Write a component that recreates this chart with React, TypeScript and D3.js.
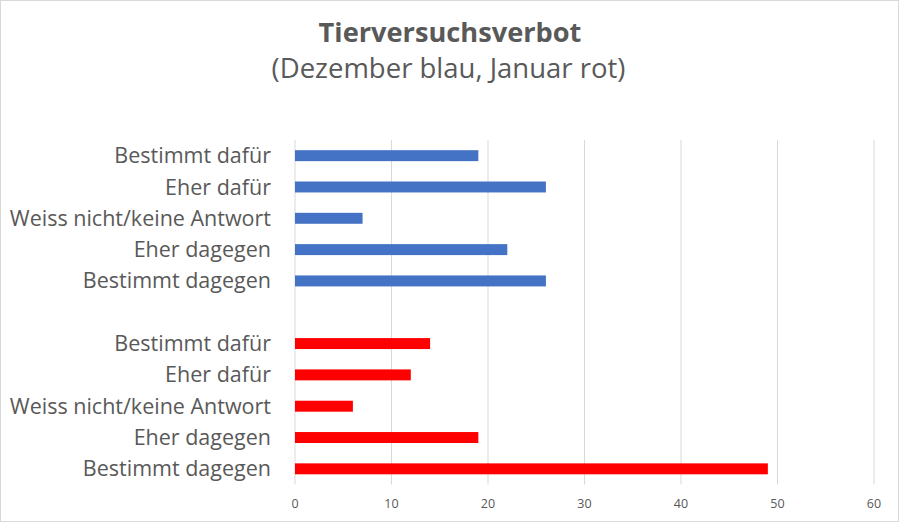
import React from "react";
import * as d3 from "d3";

const categories = [
  "Bestimmt dafür",
  "Eher dafür",
  "Weiss nicht/keine Antwort",
  "Eher dagegen",
  "Bestimmt dagegen",
  "",
  "Bestimmt dafür ",
  "Eher dafür ",
  "Weiss nicht/keine Antwort ",
  "Eher dagegen ",
  "Bestimmt dagegen ",
];
const decemberValues = [19, 26, 7, 22, 26];
const januaryValues = [14, 12, 6, 19, 49];
const xTicks = [0, 10, 20, 30, 40, 50, 60];
const title = "Tierversuchsverbot";
const subtitle = "(Dezember blau, Januar rot)";

const W = 900;
const H = 523;
const FONT = "'Segoe UI', 'Open Sans', 'Noto Sans', sans-serif";

export default function App() {
  const x = d3.scaleLinear().domain([0, 60]).range([295, 874]);
  const y = d3.scaleBand().domain(categories).range([140, 484.5]).paddingInner(0.65).paddingOuter(0.325);

  const bars = [
    ...decemberValues.map((v, i) => ({ cat: categories[i], v, color: "#4472C4" })),
    ...januaryValues.map((v, i) => ({ cat: categories[i + 6], v, color: "#FF0000" })),
  ];

  return (
    <svg width={W} height={H} style={{ display: "block", position: "absolute", left: 0, top: 0 }} fontFamily={FONT}>
      <rect x={0.5} y={0.5} width={W - 2} height={H - 2} fill="#fff" stroke="#d9d9d9" />
      <text x={450} y={41.5} textAnchor="middle" fontSize={27.2} fontWeight="bold" fill="#595959">
        {title}
      </text>
      <text x={448.5} y={78} textAnchor="middle" fontSize={27.5} fill="#595959">
        {subtitle}
      </text>
      {xTicks.map((t) => (
        <g key={t}>
          <line x1={x(t)} x2={x(t)} y1={140} y2={484.5} stroke="#d9d9d9" strokeWidth={1} />
          <text x={x(t)} y={507.5} textAnchor="middle" fontSize={12.5} fill="#595959">
            {t}
          </text>
        </g>
      ))}
      {bars.map((b, i) => (
        <rect key={i} x={x(0)} y={y(b.cat)!} width={x(b.v) - x(0)} height={y.bandwidth()} fill={b.color} />
      ))}
      {categories.map((c, i) =>
        c.trim() === "" ? null : (
          <text key={i} x={271} y={y(c)! + y.bandwidth() / 2} dy="0.35em" textAnchor="end" fontSize={21.5} fill="#595959">
            {c.trim()}
          </text>
        )
      )}
    </svg>
  );
}
